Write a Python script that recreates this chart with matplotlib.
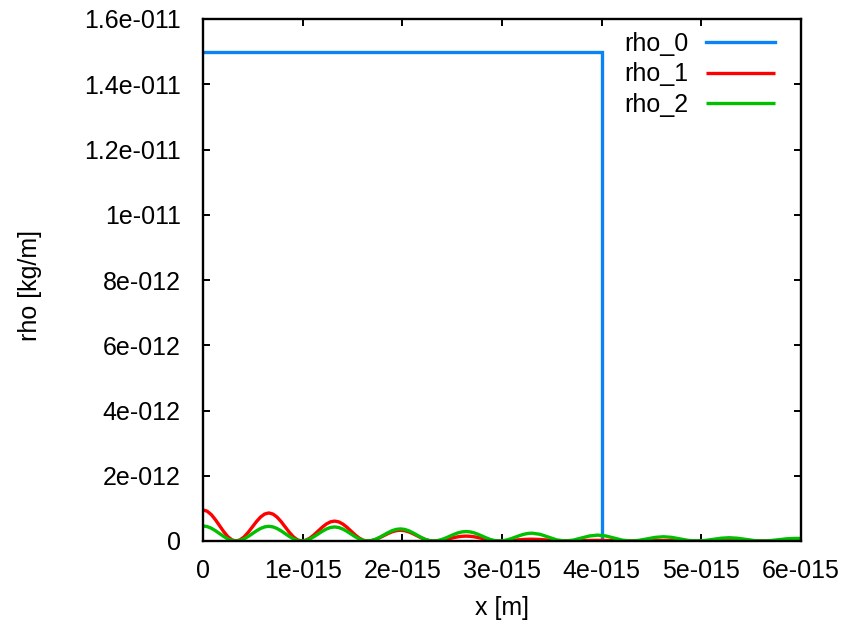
import matplotlib
matplotlib.use("Agg")
import matplotlib.pyplot as plt

plt.rcParams['font.family'] = ['Liberation Sans', 'DejaVu Sans']

# ---- data (x in 1e-15 m, rho in 1e-12 kg/m) ----
XS = 1e-15
YS = 1e-12

x_wave = [0, 0.04125, 0.0825, 0.12375, 0.165, 0.20625, 0.2475, 0.28875,
          0.33, 0.37125, 0.4125, 0.45375, 0.495, 0.53625, 0.5775, 0.61875,
          0.66, 0.70125, 0.7425, 0.78375, 0.825, 0.86625, 0.9075, 0.94875,
          0.99, 1.03125, 1.0725, 1.11375, 1.155, 1.19625, 1.2375, 1.27875,
          1.32, 1.36125, 1.4025, 1.44375, 1.485, 1.52625, 1.5675, 1.60875,
          1.65, 1.69125, 1.7325, 1.77375, 1.815, 1.85625, 1.8975, 1.93875,
          1.98, 2.02125, 2.0625, 2.10375, 2.145, 2.18625, 2.2275, 2.26875,
          2.31, 2.35125, 2.3925, 2.43375, 2.475, 2.51625, 2.5575, 2.59875,
          2.64, 2.68125, 2.7225, 2.76375, 2.805, 2.84625, 2.8875, 2.92875,
          2.97, 3.01125, 3.0525, 3.09375, 3.135, 3.17625, 3.2175, 3.25875,
          3.30,
          3.3825, 3.465, 3.5475, 3.63, 3.7125, 3.795, 3.8775,
          3.96, 4.0425, 4.125, 4.2075, 4.29, 4.3725, 4.455, 4.5375,
          4.62, 4.7025, 4.785, 4.8675, 4.95, 5.0325, 5.115, 5.1975,
          5.28, 5.3625, 5.445, 5.5275, 5.61, 5.6925, 5.775, 5.8575,
          5.94, 6.0]

rho_1 = [0.95, 0.914, 0.811, 0.656, 0.475, 0.294, 0.139, 0.036,
         0, 0.033, 0.126, 0.266, 0.43, 0.594, 0.734, 0.827,
         0.86, 0.827, 0.734, 0.594, 0.43, 0.266, 0.126, 0.033,
         0, 0.023, 0.089, 0.188, 0.305, 0.422, 0.521, 0.587,
         0.61, 0.587, 0.521, 0.422, 0.305, 0.188, 0.089, 0.023,
         0, 0.013, 0.048, 0.102, 0.165, 0.228, 0.282, 0.317,
         0.33, 0.317, 0.282, 0.228, 0.165, 0.102, 0.048, 0.013,
         0, 0.006, 0.022, 0.046, 0.075, 0.104, 0.128, 0.144,
         0.15, 0.144, 0.128, 0.104, 0.075, 0.046, 0.022, 0.006,
         0, 0.002, 0.008, 0.017, 0.028, 0.038, 0.047, 0.053,
         0.055,
         0.047, 0.028, 0.008, 0, 0.003, 0.01, 0.017,
         0.02, 0.017, 0.01, 0.003, 0, 0.001, 0.005, 0.009,
         0.01, 0.009, 0.005, 0.001, 0, 0.001, 0.003, 0.004,
         0.005, 0.004, 0.003, 0.001, 0, 0.0, 0.002, 0.003,
         0.003, 0.003]

rho_2 = [0.46, 0.443, 0.393, 0.318, 0.23, 0.142, 0.067, 0.017,
         0, 0.017, 0.066, 0.139, 0.225, 0.311, 0.384, 0.433,
         0.45, 0.433, 0.384, 0.311, 0.225, 0.139, 0.066, 0.017,
         0, 0.016, 0.063, 0.133, 0.215, 0.297, 0.367, 0.414,
         0.43, 0.414, 0.367, 0.297, 0.215, 0.133, 0.063, 0.016,
         0, 0.014, 0.054, 0.114, 0.185, 0.256, 0.316, 0.356,
         0.37, 0.356, 0.316, 0.256, 0.185, 0.114, 0.054, 0.014,
         0, 0.011, 0.042, 0.090, 0.145, 0.200, 0.248, 0.279,
         0.29, 0.279, 0.248, 0.200, 0.145, 0.090, 0.042, 0.011,
         0, 0.009, 0.035, 0.074, 0.12, 0.166, 0.205, 0.231,
         0.24,
         0.205, 0.12, 0.035, 0, 0.026, 0.09, 0.154,
         0.18, 0.154, 0.09, 0.026, 0, 0.019, 0.065, 0.111,
         0.13, 0.111, 0.065, 0.019, 0, 0.015, 0.05, 0.085,
         0.10, 0.085, 0.05, 0.015, 0, 0.012, 0.04, 0.068,
         0.08, 0.078]

x_rho0 = [0, 4.0, 4.0, 6.0]
rho_0 = [15.0, 15.0, 0, 0]

x_ticks = [0, 1, 2, 3, 4, 5, 6]
x_tick_labels = ["0", "1e-015", "2e-015", "3e-015", "4e-015", "5e-015", "6e-015"]
y_ticks = [0, 2, 4, 6, 8, 10, 12, 14, 16]
y_tick_labels = ["0", "2e-012", "4e-012", "6e-012", "8e-012", "1e-011",
                 "1.2e-011", "1.4e-011", "1.6e-011"]

# ---- figure ----
fig = plt.figure(figsize=(8.48, 6.35), dpi=100)
ax = fig.add_axes([203/848, 1 - 541/635, 598/848, 522/635])

lw = 2.4
common = dict(lw=lw, solid_joinstyle='round', solid_capstyle='butt')
ax.plot([v * XS for v in x_rho0], [v * YS for v in rho_0], color='#0a84f5', label='rho_0',
        lw=lw, solid_joinstyle='miter')
ax.plot([v * XS for v in x_wave], [v * YS for v in rho_1], color='#ff0000', label='rho_1', **common)
ax.plot([v * XS for v in x_wave], [v * YS for v in rho_2], color='#00c000', label='rho_2', **common)

ax.set_xlim(0, 6 * XS)
ax.set_ylim(0, 16 * YS)
ax.set_xticks([v * XS for v in x_ticks])
ax.set_xticklabels(x_tick_labels)
ax.set_yticks([v * YS for v in y_ticks])
ax.set_yticklabels(y_tick_labels)

fs = 18
ax.tick_params(axis='both', direction='in', length=5, width=1.4,
               top=True, right=True, labelsize=fs, colors='black')
ax.tick_params(axis='x', pad=13)
ax.tick_params(axis='y', pad=16)
for s in ax.spines.values():
    s.set_linewidth(1.7)

ax.set_xlabel('x [m]', fontsize=fs, va='center')
ax.xaxis.set_label_coords(0.5, (541 - 608) / 522)
ax.set_ylabel('rho [kg/m]', fontsize=fs, va='center')
ax.yaxis.set_label_coords((30 - 203) / 598, 0.49)

leg = ax.legend(loc='upper right', bbox_to_anchor=((775 - 203) / 598, (541 - 32) / 522),
                markerfirst=False, frameon=False, fontsize=fs,
                handlelength=2.75, handletextpad=0.7, labelspacing=0.26,
                borderpad=0, borderaxespad=0)

fig.savefig('out.png', dpi=100)
